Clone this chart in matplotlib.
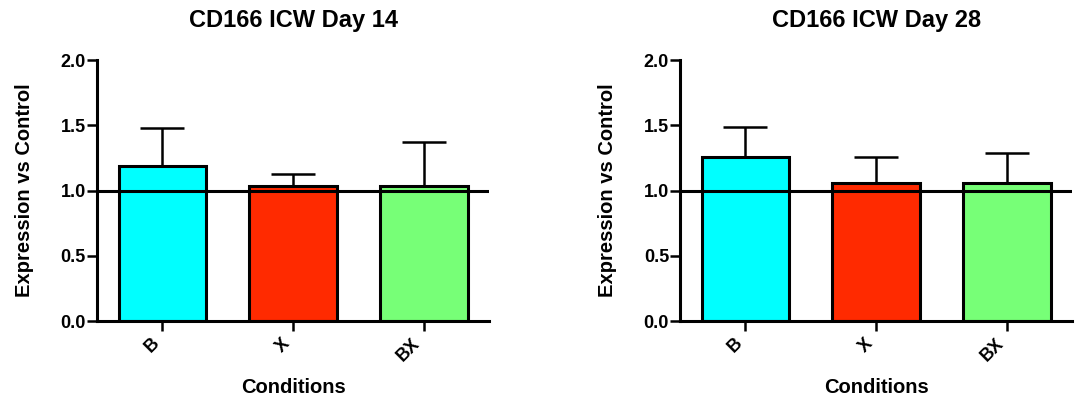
import matplotlib
matplotlib.use('Agg')
import matplotlib.pyplot as plt
import matplotlib.transforms as mtransforms

plt.rcParams['font.family'] = ['Liberation Sans', 'DejaVu Sans']
plt.rcParams['font.weight'] = 'bold'

# data
conditions = ['B', 'X', 'BX']
colors = ['#00ffff', '#ff2a00', '#77ff77']

day14_mean = [1.19, 1.035, 1.035]
day14_err = [0.29, 0.09, 0.34]

day28_mean = [1.26, 1.06, 1.06]
day28_err = [0.225, 0.195, 0.23]

titles = ['CD166 ICW Day 14', 'CD166 ICW Day 28']
yticks = [0.0, 0.5, 1.0, 1.5, 2.0]

fig = plt.figure(figsize=(10.83, 4.01), dpi=100)
ax1 = fig.add_axes([0.0896, 0.1995, 0.362, 0.6505])
ax2 = fig.add_axes([0.628, 0.1995, 0.362, 0.6505])

shift = mtransforms.ScaledTranslation(3 / 100, 0, fig.dpi_scale_trans)

for ax, means, errs, title in [(ax1, day14_mean, day14_err, titles[0]),
                               (ax2, day28_mean, day28_err, titles[1])]:
    x = range(len(conditions))
    ax.bar(x, means, width=0.67, color=colors, edgecolor='black',
           linewidth=2.2, zorder=2)
    # upper error bars only
    ax.errorbar(x, means, yerr=[[0] * len(errs), errs], fmt='none',
                ecolor='black', elinewidth=1.8, capsize=16, capthick=1.8,
                zorder=1)
    ax.axhline(1.0, color='black', linewidth=2.2, zorder=3)
    ax.set_xlim(-0.5, 2.5)
    ax.set_ylim(0, 2.0)
    ax.set_yticks(yticks)
    ax.set_yticklabels(['%.1f' % t for t in yticks], fontsize=13, fontweight='bold')
    ax.set_xticks(list(x))
    ax.set_xticklabels(conditions, rotation=45, fontsize=13, fontweight='bold',
                       ha='right', va='top')
    for lbl in ax.get_xticklabels():
        lbl.set_transform(lbl.get_transform() + shift)
    for s in ['top', 'right']:
        ax.spines[s].set_visible(False)
    for s in ['left', 'bottom']:
        ax.spines[s].set_linewidth(2.2)
    ax.tick_params(direction='out', length=7, width=1.8, pad=1)
    ax.tick_params(axis='x', pad=3)
    ax.set_title(title, fontsize=17, fontweight='bold', pad=24)
    ax.set_ylabel('Expression vs Control', fontsize=14.5, fontweight='bold')
    ax.set_xlabel('Conditions', fontsize=14.5, fontweight='bold')
    ax.yaxis.set_label_coords(-0.16, 0.5)
    ax.xaxis.set_label_coords(0.5, -0.22)

fig.savefig('out.png', dpi=100)
